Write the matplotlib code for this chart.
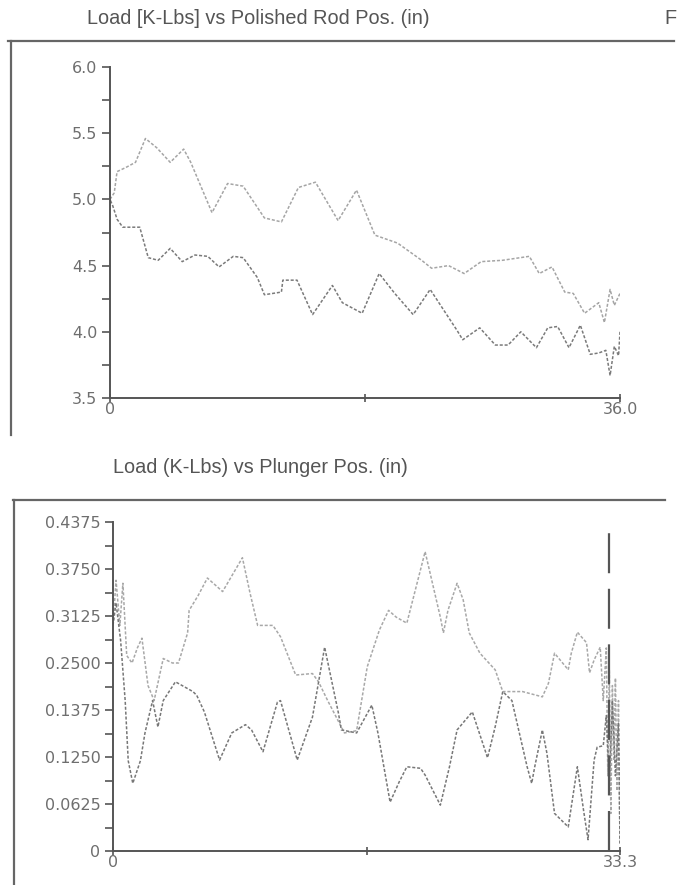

# import the needed packages
import numpy as np
import matplotlib.pyplot as plt
from matplotlib.lines import Line2D


# pixel size of the scanned page
W = 678.0
H = 885.0


# polished rod card: upstroke (upper branch) and downstroke (lower branch)
rod_up_x = [0, 0.3, 0.5, 1.1, 1.8, 2.5, 3.3, 4.25, 5.2, 5.7, 7.2, 8.3, 9.4, 10.9, 12.1,
            13.3, 14.5, 16.1, 17.4, 18.7, 20.3, 22.0, 22.7, 23.9, 25.0, 26.2, 27.7,
            29.6, 30.3, 31.2, 32.1, 32.7, 33.5, 34.5, 34.9, 35.3, 35.6, 36.0]
rod_up_y = [5.0, 5.05, 5.21, 5.24, 5.28, 5.46, 5.39, 5.28, 5.38, 5.28, 4.9, 5.12, 5.1,
            4.86, 4.83, 5.09, 5.13, 4.84, 5.07, 4.73, 4.67, 4.54, 4.48, 4.5, 4.44, 4.53,
            4.54, 4.57, 4.44, 4.49, 4.3, 4.29, 4.14, 4.22, 4.07, 4.32, 4.2, 4.29]

rod_dn_x = [36.0, 35.9, 35.6, 35.3, 35.0, 34.5, 33.9, 33.2, 32.4, 31.6, 30.9, 30.1,
            29.0, 28.1, 27.2, 26.1, 24.9, 24.5, 22.6, 21.4, 20.1, 19.0, 17.8, 16.4,
            15.7, 14.3, 13.2, 12.2, 12.1, 10.9, 10.4, 9.4, 8.7, 7.7, 6.9, 6.0, 5.1,
            4.25, 3.4, 2.7, 2.1, 0.9, 0.5, 0.2, 0]
rod_dn_y = [4.0, 3.82, 3.89, 3.67, 3.86, 3.84, 3.83, 4.05, 3.88, 4.04, 4.03, 3.88,
            4.0, 3.9, 3.9, 4.03, 3.94, 4.01, 4.32, 4.13, 4.29, 4.44, 4.14, 4.22, 4.35,
            4.13, 4.39, 4.39, 4.3, 4.28, 4.41, 4.56, 4.57, 4.49, 4.57, 4.58, 4.53,
            4.63, 4.54, 4.56, 4.79, 4.79, 4.85, 4.95, 5.0]

rod_yticks = [3.5, 4.0, 4.5, 5.0, 5.5, 6.0]
rod_ylabels = ['3.5', '4.0', '4.5', '5.0', '5.5', '6.0']
rod_xlabels = ['0', '', '36.0']


# plunger card
plg_up_x = [0.0, 0.2, 0.45, 0.65, 0.9, 1.25, 1.6, 1.9, 2.3, 2.7, 3.3, 3.9, 4.3, 4.9,
            5.0, 5.6, 6.2, 7.2, 8.5, 9.0, 9.5, 10.5, 11.0, 12.0, 13.1, 13.5, 14.1, 15.2,
            16.0, 16.7, 17.5, 18.1, 18.6, 19.3, 20.5, 21.5, 21.7, 22.0, 22.6, 23.0,
            23.4, 24.1, 25.1, 25.6, 26.9, 28.2, 28.6, 29.0, 29.9, 30.1, 30.5, 31.1,
            31.3, 31.6, 32.0, 32.2, 32.4, 32.5, 32.6, 32.7, 32.8, 32.9, 33.0, 33.1,
            33.2, 33.3]
plg_up_y = [0.30, 0.36, 0.30, 0.356, 0.26, 0.25, 0.27, 0.283, 0.22, 0.20, 0.256, 0.25,
            0.25, 0.29, 0.32, 0.34, 0.363, 0.345, 0.39, 0.343, 0.30, 0.30, 0.285, 0.234,
            0.236, 0.225, 0.2, 0.157, 0.16, 0.245, 0.294, 0.32, 0.311, 0.303, 0.398,
            0.311, 0.29, 0.32, 0.356, 0.334, 0.29, 0.263, 0.241, 0.212, 0.212, 0.205,
            0.223, 0.263, 0.241, 0.263, 0.291, 0.277, 0.237, 0.254, 0.271, 0.20, 0.27,
            0.10, 0.24, 0.05, 0.22, 0.12, 0.23, 0.08, 0.20, 0.01]

plg_dn_x = [33.3, 33.2, 33.0, 32.8, 32.6, 32.4, 32.2, 31.8, 31.6, 31.4, 31.2, 30.9,
            30.5, 29.9, 29.0, 28.5, 28.2, 27.7, 27.5, 27.2, 26.2, 25.6, 25.1, 24.6,
            23.6, 22.6, 22.1, 21.5, 20.5, 20.2, 19.3, 18.8, 18.2, 17.4, 17.0, 16.0,
            15.0, 14.8, 13.9, 13.1, 12.1, 11.0, 10.8, 9.85, 9.1, 8.7, 7.8, 7.0, 6.0,
            5.5, 5.25, 4.1, 3.3, 2.95, 2.6, 2.1, 1.8, 1.3, 1.0, 0.8, 0.5, 0.2, 0.0]
plg_dn_y = [0.01, 0.17, 0.10, 0.20, 0.09, 0.18, 0.14, 0.138, 0.121, 0.068, 0.015,
            0.055, 0.112, 0.032, 0.05, 0.13, 0.161, 0.112, 0.09, 0.112, 0.2, 0.212,
            0.165, 0.124, 0.185, 0.161, 0.112, 0.061, 0.101, 0.11, 0.112, 0.092,
            0.065, 0.157, 0.194, 0.157, 0.161, 0.184, 0.271, 0.178, 0.121, 0.2, 0.198,
            0.132, 0.161, 0.168, 0.157, 0.121, 0.185, 0.207, 0.212, 0.225, 0.2, 0.165,
            0.2, 0.157, 0.12, 0.09, 0.12, 0.2, 0.28, 0.33, 0.30]

plg_yticks = [0, 0.0625, 0.125, 0.1875, 0.25, 0.3125, 0.375, 0.4375]
plg_ylabels = ['0', '0.0625', '0.1250', '0.1375', '0.2500', '0.3125', '0.3750', '0.4375']
plg_xlabels = ['0', '', '33.3']

# position of the dashed marker line on the plunger card
plg_marker = 32.6


plt.rcParams['font.family'] = ['DejaVu Sans']

AXIS = '#555555'
TEXT = '#6e6e6e'


def style_axes(ax, xmax, ymin, ymax, yticks, ylabels, xlabels, minor_step):
    # only the left and bottom axis lines, like the old report software
    ax.set_xlim(0, xmax)
    ax.set_ylim(ymin, ymax)
    for side in ['top', 'right']:
        ax.spines[side].set_visible(False)
    for side in ['left', 'bottom']:
        ax.spines[side].set_color(AXIS)
        ax.spines[side].set_linewidth(1.4)
    ax.set_yticks(yticks, labels=ylabels)
    ax.set_yticks(np.arange(ymin + minor_step, ymax, 2 * minor_step), minor=True)
    ax.set_xticks([0, xmax / 2, xmax], labels=xlabels)
    ax.tick_params(axis='y', which='both', direction='out', length=6, width=1.2,
                   color=AXIS, labelcolor=TEXT, labelsize=11.5, pad=3)
    ax.tick_params(axis='x', direction='inout', length=6, width=1.2,
                   color=AXIS, labelcolor=TEXT, labelsize=11.5, pad=0)
    ax.patch.set_alpha(0)


fig = plt.figure(figsize=(W / 100, H / 100), dpi=100)


# top card: load vs polished rod position
ax1 = fig.add_axes([110 / W, 1 - 398 / H, 510 / W, 331 / H])
ax1.plot(rod_up_x, rod_up_y, color='#a5a5a5', lw=1.1, linestyle=(0, (2, 1.2)))
ax1.plot(rod_dn_x, rod_dn_y, color='#7a7a7a', lw=1.1, linestyle=(0, (2, 1.2)))
style_axes(ax1, 36.0, 3.5, 6.0, rod_yticks, rod_ylabels, rod_xlabels, 0.25)


# bottom card: load vs plunger position
ax2 = fig.add_axes([113 / W, 1 - 851 / H, 507 / W, 329 / H])
ax2.plot(plg_up_x, plg_up_y, color='#a8a8a8', lw=1.1, linestyle=(0, (2, 1.2)))
ax2.plot(plg_dn_x, plg_dn_y, color='#777777', lw=1.1, linestyle=(0, (2, 1.2)))
ax2.axvline(plg_marker, color='#555555', lw=1.6, linestyle=(0, (18, 7)))
style_axes(ax2, 33.3, 0, 0.4375, plg_yticks, plg_ylabels, plg_xlabels, 0.0625 / 2)


# titles above each panel
title_font = dict(fontsize=14.3, color='#555555', va='center',
                  family='Liberation Sans')
fig.text(87 / W, 1 - 18 / H, 'Load [K-Lbs] vs Polished Rod Pos. (in)', ha='left', **title_font)
fig.text(676 / W, 1 - 18 / H, 'F', ha='right', **title_font)
fig.text(113 / W, 1 - 467 / H, 'Load (K-Lbs) vs Plunger Pos. (in)', ha='left', **title_font)


# frame lines of the panels on the page
frame = dict(color='#666666', lw=1.6)
fig.add_artist(Line2D([8 / W, 674 / W], [1 - 41 / H, 1 - 41 / H], **frame))
fig.add_artist(Line2D([11 / W, 11 / W], [1 - 41 / H, 1 - 435 / H], **frame))
fig.add_artist(Line2D([13 / W, 665 / W], [1 - 500 / H, 1 - 500 / H], **frame))
fig.add_artist(Line2D([14 / W, 14 / W], [1 - 500 / H, 0], **frame))


plt.savefig('out.png', dpi=100)
